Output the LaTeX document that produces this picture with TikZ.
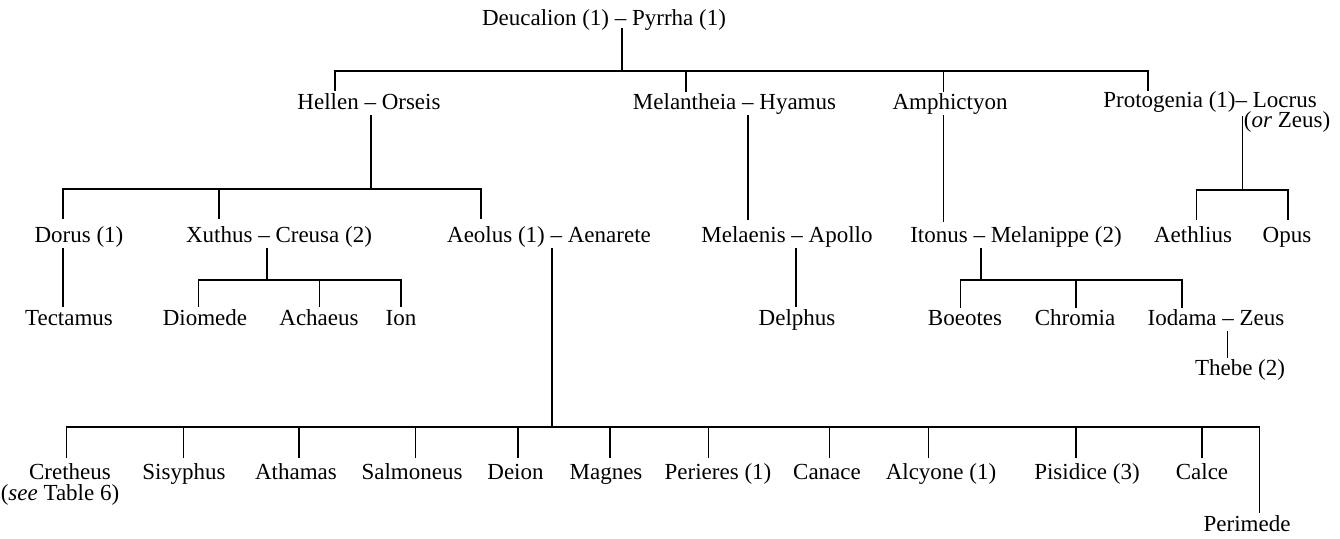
\documentclass[tikz,border=0pt]{standalone}
\usepackage{fontspec}
\setmainfont{Liberation Serif}
\begin{document}
\begin{tikzpicture}[x=1pt,y=-1pt,
  nm/.style={inner sep=0pt, anchor=base, font=\fontsize{23}{27}\selectfont},
  ln/.style={line width=1.3pt, line cap=rect}]
\useasboundingbox (0,0) rectangle (1340,538);
% level 0
\node[nm] (deuc) at (604,25) {Deucalion (1) -- Pyrrha (1)};
% level 1
\node[nm] (hellen) at (369,109) {Hellen -- Orseis};
\node[nm] (melan) at (734.5,109) {Melantheia -- Hyamus};
\node[nm] (amph) at (950,109) {Amphictyon};
\node[nm] (proto) at (1210,107) {Protogenia (1)-- Locrus};
\node[nm] (orz) at (1287,127.5) {(\textit{or} Zeus)};
% level 2
\node[nm] (dorus) at (79,242) {Dorus (1)};
\node[nm] (xuthus) at (279,242) {Xuthus -- Creusa (2)};
\node[nm] (aeolus) at (549,242) {Aeolus (1) -- Aenarete};
\node[nm] (melaenis) at (787,242) {Melaenis -- Apollo};
\node[nm] (itonus) at (1016,242) {Itonus -- Melanippe (2)};
\node[nm] (aethlius) at (1193,242) {Aethlius};
\node[nm] (opus) at (1287,242) {Opus};
% level 3
\node[nm] (tect) at (69,325) {Tectamus};
\node[nm] (diom) at (205,325) {Diomede};
\node[nm] (acha) at (319,325) {Achaeus};
\node[nm] (ion) at (401,325) {Ion};
\node[nm] (delph) at (797,325) {Delphus};
\node[nm] (boeo) at (965,325) {Boeotes};
\node[nm] (chrom) at (1075,325) {Chromia};
\node[nm] (iodama) at (1216,325) {Iodama -- Zeus};
\node[nm] (thebe) at (1240,375) {Thebe (2)};
% bottom row
\node[nm] (cret) at (70,479) {Cretheus};
\node[nm] (see) at (60,500) {(\textit{see} Table 6)};
\node[nm] (sisy) at (184,479) {Sisyphus};
\node[nm] (atha) at (296,479) {Athamas};
\node[nm] (salm) at (412,479) {Salmoneus};
\node[nm] (deion) at (515.5,479) {Deion};
\node[nm] (magn) at (606,479) {Magnes};
\node[nm] (peri) at (718,479) {Perieres (1)};
\node[nm] (cana) at (827,479) {Canace};
\node[nm] (alcy) at (941,479) {Alcyone (1)};
\node[nm] (pisi) at (1087,479) {Pisidice (3)};
\node[nm] (calce) at (1202,479) {Calce};
\node[nm] (perim) at (1247,531) {Perimede};

% connectors level 0 -> 1
\coordinate (j0) at (622,71);
\draw[ln] (622,29) -- (j0);
\draw[ln] (335,71) -- (1148,71);
\foreach \x/\b in {335/90,686/91,943.5/91,1148/90} \draw[ln] (\x,71) -- (\x,\b);
% Hellen
\draw[ln] (371,116) -- (371,189);
\draw[ln] (63,189) -- (481,189);
\foreach \x in {63,219,481} \draw[ln] (\x,189) -- (\x,218);
% Melantheia, Amphictyon
\draw[ln] (748,116) -- (748,219);
\draw[ln] (943.5,116) -- (943.5,221);
% Locrus
\draw[ln] (1242.7,117) -- (1242.7,190);
\draw[ln] (1196.5,190) -- (1288,190);
\foreach \x in {1196.5,1288} \draw[ln] (\x,190) -- (\x,219);
% Dorus
\draw[ln] (63,249) -- (63,306);
% Xuthus
\draw[ln] (267,249) -- (267,280);
\draw[ln] (198.7,280) -- (401,280);
\foreach \x in {198.7,319.7,401} \draw[ln] (\x,280) -- (\x,306);
% Melaenis
\draw[ln] (796,249) -- (796,306);
% Itonus
\draw[ln] (981,249) -- (981,280);
\draw[ln] (960.6,280) -- (1182,280);
\foreach \x in {960.6,1076,1182} \draw[ln] (\x,280) -- (\x,307);
% Iodama
\draw[ln] (1227.7,332) -- (1227.7,357);
% Aeolus
\draw[ln] (552,249) -- (552,427);
\draw[ln] (66.7,427) -- (1259.7,427);
\foreach \x in {66.7,183.5,299,415.8,518,610,708.5,829.4,928.5,1076,1202} \draw[ln] (\x,427) -- (\x,457);
\draw[ln] (1259.7,427) -- (1259.7,512);
\end{tikzpicture}
\end{document}
